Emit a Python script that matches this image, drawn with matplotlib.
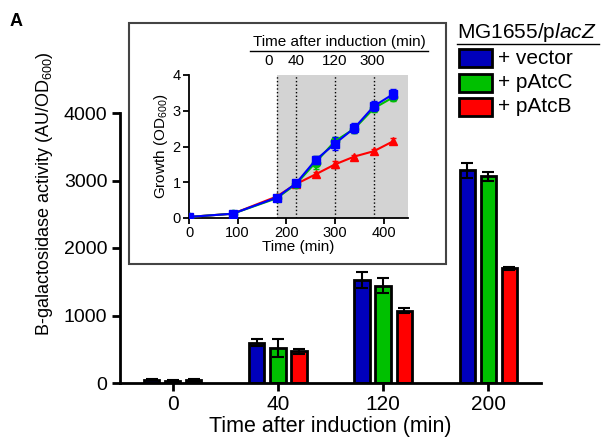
import matplotlib
matplotlib.use('Agg')
import matplotlib.pyplot as plt
import matplotlib.patches as patches
from matplotlib.lines import Line2D
import numpy as np

plt.rcParams['font.family'] = ['Liberation Sans', 'DejaVu Sans']
plt.rcParams['mathtext.fontset'] = 'custom'
plt.rcParams['mathtext.rm'] = 'Liberation Sans'
plt.rcParams['mathtext.it'] = 'Liberation Sans:italic'

# Bar chart data (beta-galactosidase activity)
categories = ['0', '40', '120', '200']
series_names = ['+ vector', '+ pAtcC', '+ pAtcB']
colors = ['#0000bb', '#00c000', '#ff0000']
bar_vals = [
    [50, 600, 1530, 3150],   # vector
    [30, 520, 1440, 3060],   # pAtcC
    [45, 470, 1070, 1700],   # pAtcB
]
bar_errs = [
    [10, 45, 120, 110],
    [8, 135, 110, 70],
    [10, 35, 40, 20],
]

# Inset growth curve data
time_min = [0, 90, 180, 220, 260, 300, 340, 380, 420]
od_vector = [0.03, 0.12, 0.57, 0.97, 1.62, 2.08, 2.52, 3.13, 3.47]
od_atcc = [0.03, 0.12, 0.55, 0.95, 1.55, 2.15, 2.50, 3.07, 3.38]
od_atcb = [0.03, 0.12, 0.60, 0.95, 1.22, 1.50, 1.72, 1.87, 2.15]
od_err_vector = [0.02, 0.02, 0.03, 0.04, 0.12, 0.18, 0.13, 0.15, 0.15]
od_err_atcc = [0.02, 0.02, 0.03, 0.04, 0.18, 0.12, 0.12, 0.10, 0.12]
od_err_atcb = [0.02, 0.02, 0.03, 0.04, 0.06, 0.10, 0.05, 0.05, 0.08]
induction_marks = [180, 220, 300, 380]
induction_labels = ['0', '40', '120', '300']

W, H = 604, 437
fig = plt.figure(figsize=(W / 100, H / 100), dpi=100)

# ---- main bar chart ----
ax = fig.add_axes([120 / W, 1 - 383 / H, 421 / W, 270 / H])
x = np.arange(len(categories))
bw = 0.145
for i in range(3):
    ax.bar(x + (i - 1) * 0.2, bar_vals[i], bw, color=colors[i], edgecolor='black',
           linewidth=2, label=series_names[i], zorder=2)
    ax.errorbar(x + (i - 1) * 0.2, bar_vals[i], yerr=bar_errs[i], fmt='none',
                ecolor='black', elinewidth=1.5, capsize=4, capthick=1.5, zorder=3)

ax.set_xlim(-0.5, 3.5)
ax.set_ylim(0, 4000)
ax.set_yticks([0, 1000, 2000, 3000, 4000])
ax.set_xticks(x)
ax.set_xticklabels(categories)
for s in ['top', 'right']:
    ax.spines[s].set_visible(False)
for s in ['left', 'bottom']:
    ax.spines[s].set_linewidth(2)
ax.tick_params(axis='both', width=2, length=6, labelsize=14, pad=3)
ax.tick_params(axis='x', labelsize=15)
ax.set_xlabel('Time after induction (min)', fontsize=15.5, labelpad=1)
ax.set_ylabel('B-galactosidase activity (AU/OD$_{600}$)', fontsize=13)
ax.yaxis.set_label_coords(-0.155, 0.70)

# ---- inset box ----
box = patches.Rectangle((129 / W, 1 - 264 / H), 317 / W, 241 / H, transform=fig.transFigure,
                        facecolor='white', edgecolor='#444444', linewidth=1.5, zorder=3)
fig.patches.append(box)

# ---- inset growth curve ----
ins = fig.add_axes([189 / W, 1 - 218 / H, 219 / W, 143 / H], zorder=4)
ins.patch.set_alpha(0)
ins.axvspan(180, 450, ymin=0, ymax=1, color='#d3d3d3', zorder=0, lw=0)
for m in induction_marks:
    ins.axvline(m, color='black', linestyle=':', linewidth=1, zorder=1)

ins.errorbar(time_min, od_atcb, yerr=od_err_atcb, color=colors[2], marker='^', markersize=6,
             linewidth=1.5, capsize=2.5, elinewidth=1.5, zorder=3)
ins.errorbar(time_min, od_atcc, yerr=od_err_atcc, color=colors[1], marker='o', markersize=6,
             linewidth=1.5, capsize=2.5, elinewidth=1.5, zorder=4)
ins.errorbar(time_min, od_vector, yerr=od_err_vector, color='#0000ff', marker='s', markersize=6,
             linewidth=1.5, capsize=2.5, elinewidth=1.5, zorder=5)

ins.set_xlim(0, 450)
ins.set_ylim(0, 4)
ins.set_xticks([0, 100, 200, 300, 400])
ins.set_yticks([0, 1, 2, 3, 4])
for s in ['top', 'right']:
    ins.spines[s].set_visible(False)
for s in ['left', 'bottom']:
    ins.spines[s].set_linewidth(1.3)
ins.tick_params(axis='both', width=1.3, length=4, labelsize=10.5, pad=2)
ins.set_xlabel('Time (min)', fontsize=11, labelpad=0)
ins.set_ylabel('Growth (OD$_{600}$)', fontsize=11, labelpad=2)

label_offsets = [-6, 0, 0, -1]
for m, lab, off in zip(induction_marks, induction_labels, label_offsets):
    ins.annotate(lab, xy=(m, 1.0), xycoords=('data', 'axes fraction'),
                 xytext=(off, 5), textcoords='offset points', ha='center', va='bottom',
                 fontsize=11)
fig.text(339 / W, 1 - 42 / H, 'Time after induction (min)', fontsize=11,
         ha='center', va='center', zorder=6)
fig.add_artist(Line2D([250 / W, 428 / W], [1 - 51 / H, 1 - 51 / H], color='black', lw=1,
                      transform=fig.transFigure, zorder=6))

# ---- legend ----
fig.text(457 / W, 1 - 33 / H, 'MG1655/p$\\mathit{lacZ}$', fontsize=15, ha='left', va='center')
fig.add_artist(Line2D([457 / W, 599 / W], [1 - 44 / H, 1 - 44 / H], color='black', lw=1,
                      transform=fig.transFigure))
leg_y = [58, 83, 107]
for c, name, yy in zip(colors, series_names, leg_y):
    rect = patches.Rectangle((459 / W, 1 - (yy + 9) / H), 33 / W, 18 / H,
                             transform=fig.transFigure, facecolor=c, edgecolor='black', lw=2)
    fig.patches.append(rect)
    fig.text(498 / W, 1 - yy / H, name, fontsize=15, ha='left', va='center')

fig.text(10 / W, 1 - 21 / H, 'A', fontsize=13, fontweight='bold', ha='left', va='center')

fig.savefig('out.png', dpi=100)
